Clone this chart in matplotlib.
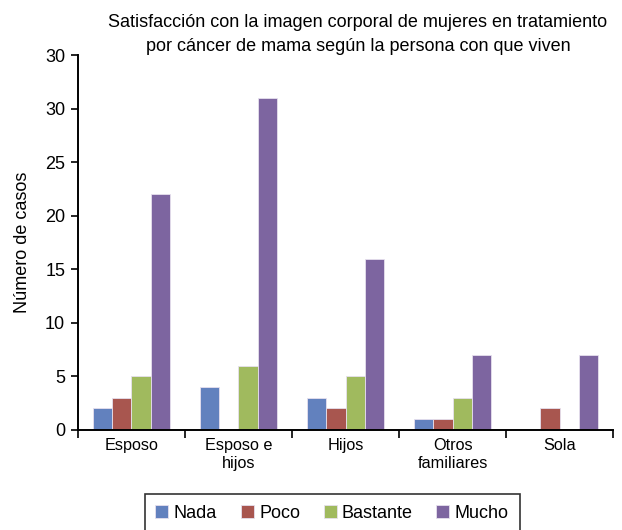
import numpy as np
import matplotlib
matplotlib.use("Agg")
import matplotlib.pyplot as plt

plt.rcParams['font.family'] = ['Liberation Sans', 'DejaVu Sans']

categories = ["Esposo", "Esposo e\nhijos", "Hijos", "Otros\nfamiliares", "Sola"]
series = ["Nada", "Poco", "Bastante", "Mucho"]
nada = [2, 4, 3, 1, 0]
poco = [3, 0, 2, 1, 2]
bastante = [5, 6, 5, 3, 0]
mucho = [22, 31, 16, 7, 7]
ytick_vals = [0, 5, 10, 15, 20, 25, 30, 35]
ytick_labels = ["0", "5", "10", "15", "20", "25", "30", "30"]

colors = ["#6281be", "#a8564f", "#a0ba5e", "#7d65a0"]

fig = plt.figure(figsize=(6.22, 5.30), dpi=100)
ax = fig.add_axes([0.125, 0.189, 0.861, 0.707])

x = np.arange(len(categories))
w = 0.18
for i, (name, vals) in enumerate(zip(series, [nada, poco, bastante, mucho])):
    ax.bar(x + (i - 1.5) * w, vals, width=w, color=colors[i],
           edgecolor="#e6e0ee", linewidth=0.6, label=name)

ax.set_xlim(-0.5, len(categories) - 0.5)
ax.set_ylim(0, 35)
ax.set_yticks(ytick_vals)
ax.set_yticklabels(ytick_labels, fontsize=13)

# category labels centred, ticks on the boundaries
ax.set_xticks(np.arange(len(categories) + 1) - 0.5)
ax.set_xticklabels([])
ax.set_xticks(x, minor=True)
ax.set_xticklabels(categories, minor=True, fontsize=11.7)
ax.tick_params(axis="x", which="minor", length=0, pad=6)
ax.tick_params(axis="x", which="major", length=6, width=1.2, direction="out")
ax.tick_params(axis="y", length=5, width=1.2, direction="out", pad=4)

for s in ["top", "right"]:
    ax.spines[s].set_visible(False)
for s in ["left", "bottom"]:
    ax.spines[s].set_linewidth(1.4)

ax.set_ylabel("Número de casos", fontsize=13, labelpad=10)
ax.set_title("Satisfacción con la imagen corporal de mujeres en tratamiento\n"
             "por cáncer de mama según la persona con que viven",
             fontsize=13, pad=2, x=0.523, linespacing=1.55)

leg = fig.legend(loc="upper center", bbox_to_anchor=(0.534, 0.068), ncol=4,
                 fontsize=13, frameon=True, fancybox=False, edgecolor="black",
                 handlelength=0.72, handleheight=0.72, handletextpad=0.3,
                 columnspacing=1.3, borderpad=0.6, borderaxespad=0.0)
leg.get_frame().set_linewidth(1.2)

fig.savefig("out.png", dpi=100)
